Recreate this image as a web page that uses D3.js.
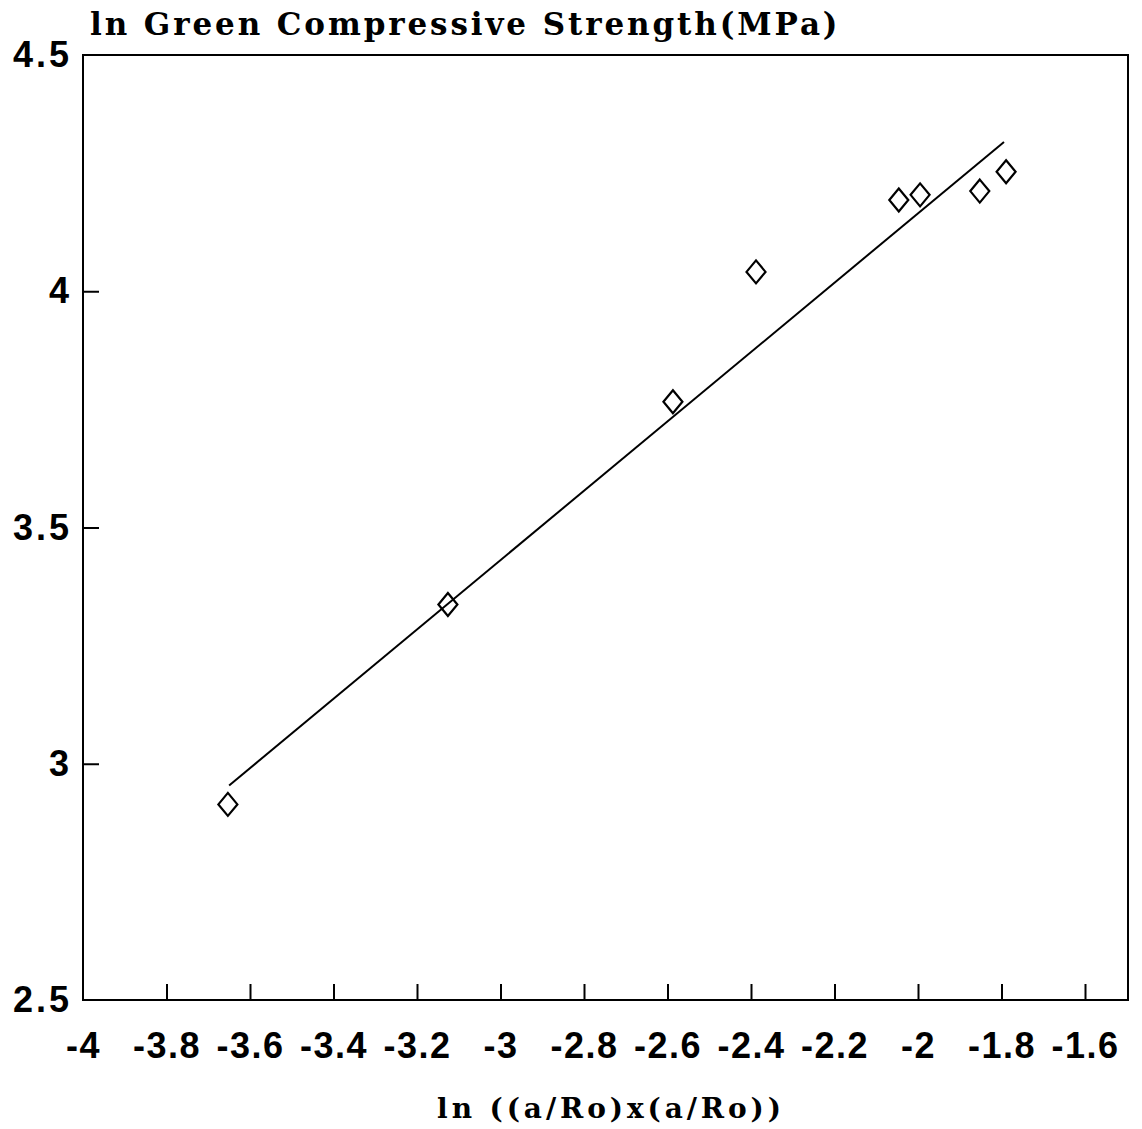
<!DOCTYPE html>
<html><head><meta charset="utf-8">
<script src="https://cdn.jsdelivr.net/npm/d3@7"></script>
<style>body{margin:0;background:#fff}</style>
</head><body>
<svg id="c" width="1142" height="1129"></svg>
<script>
const xValues = [-3.653, -3.126, -2.587, -2.388, -2.046, -1.995, -1.852, -1.789];
const yValues = [2.914, 3.337, 3.766, 4.041, 4.193, 4.204, 4.212, 4.253];
const fitX = [-3.650, -1.794];
const fitY = [2.954, 4.316];
const xTicks = [-4, -3.8, -3.6, -3.4, -3.2, -3, -2.8, -2.6, -2.4, -2.2, -2, -1.8, -1.6];
const yTicks = [2.5, 3, 3.5, 4, 4.5];
const title = "ln Green Compressive Strength(MPa)";
const xTitle = "ln ((a/Ro)x(a/Ro))";

const svg = d3.select("#c");
const L = 83, R = 1128, T = 55, B = 1000;
const x = d3.scaleLinear().domain([-4, -1.5]).range([L, L + 2.5 * 417.5]);
const y = d3.scaleLinear().domain([2.5, 4.5]).range([B, T]);
const fmt = d => String(+d.toFixed(1)).replace("\u2212", "-");

// frame
svg.append("rect").attr("x", L).attr("y", T).attr("width", R - L).attr("height", B - T)
  .attr("fill", "none").attr("stroke", "#000").attr("stroke-width", 2);

// x axis ticks (inward)
const xa = svg.append("g").attr("transform", `translate(0,${B})`)
  .call(d3.axisBottom(x).tickValues(xTicks).tickSize(-16).tickPadding(46).tickFormat(fmt));
xa.select(".domain").remove();
xa.selectAll(".tick line").attr("stroke-width", 2).filter(d => d === -4).remove();
xa.selectAll(".tick text").attr("font-family", "Liberation Sans, Arial, sans-serif")
  .attr("font-weight", "bold").attr("font-size", 36).attr("fill", "#000")
  .attr("letter-spacing", 1.5).attr("dy", "0.32em");

// y axis ticks (inward)
const ya = svg.append("g").attr("transform", `translate(${L},0)`)
  .call(d3.axisLeft(y).tickValues(yTicks).tickSize(-16).tickPadding(11).tickFormat(fmt));
ya.select(".domain").remove();
ya.selectAll(".tick line").attr("stroke-width", 2).filter(d => d === 2.5 || d === 4.5).remove();
ya.selectAll(".tick text").attr("font-family", "Liberation Sans, Arial, sans-serif")
  .attr("font-weight", "bold").attr("font-size", 36).attr("fill", "#000")
  .attr("letter-spacing", 3);

// fit line
svg.append("path")
  .datum(fitX.map((d, i) => [d, fitY[i]]))
  .attr("d", d3.line().x(d => x(d[0])).y(d => y(d[1])))
  .attr("fill", "none").attr("stroke", "#000").attr("stroke-width", 2);

// diamonds
const w = 9.5, h = 11.5;
svg.append("g").selectAll("path").data(xValues.map((d, i) => [d, yValues[i]]))
  .join("path")
  .attr("d", d => {
    const cx = x(d[0]), cy = y(d[1]);
    return `M${cx},${cy - h}L${cx + w},${cy}L${cx},${cy + h}L${cx - w},${cy}Z`;
  })
  .attr("fill", "none").attr("stroke", "#000").attr("stroke-width", 2.2);

// titles
svg.append("text").attr("x", 90).attr("y", 35).text(title)
  .attr("font-family", "DejaVu Serif, serif").attr("font-weight", "bold")
  .attr("font-size", 31).attr("letter-spacing", 2.9).attr("fill", "#000");
svg.append("text").attr("x", 611).attr("y", 1118).attr("text-anchor", "middle").text(xTitle)
  .attr("font-family", "DejaVu Serif, serif").attr("font-weight", "bold")
  .attr("font-size", 28).attr("letter-spacing", 3.9).attr("fill", "#000");
</script>
</body></html>
